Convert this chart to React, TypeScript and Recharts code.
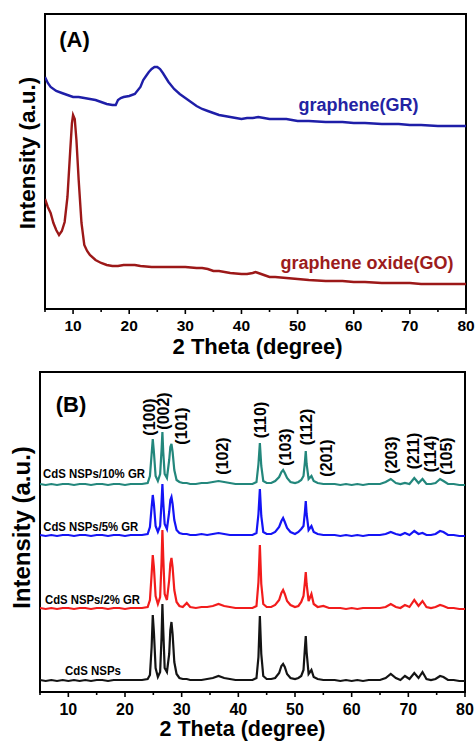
import React from 'react';
import { LineChart, Line, XAxis, YAxis, ReferenceArea, ReferenceDot, Label } from 'recharts';

const FONT = 'Arial, "Liberation Sans", Helvetica, sans-serif';

// ---------- Panel A: graphene / graphene oxide ----------
const grTheta = [5, 5.5, 6, 7, 8, 9, 10, 11, 12, 13,
  14, 15, 16, 17, 17.6, 18, 18.5, 19, 20, 21,
  22, 22.5, 23, 23.5, 24, 24.5, 25, 25.5, 26, 27,
  28, 29, 30, 31, 32, 33, 34, 35, 36, 37,
  38, 39, 40, 41, 42, 43, 44, 45, 46, 47,
  48, 49, 50, 52, 55, 58, 60, 62, 65, 68,
  70, 72, 75, 78, 80];
const grIntensity = [232, 226, 222, 218, 216, 214, 212, 212, 211, 210,
  209, 207, 205, 204, 204, 209, 211, 212, 213, 215,
  222, 229, 233, 237, 240, 242, 242, 240, 236, 227,
  220, 215, 211, 207, 203, 200, 198, 196, 194, 193,
  192, 191, 190, 191, 191, 192, 191, 190, 190, 190,
  190, 189, 188, 188, 187, 187, 186, 186, 185, 185,
  184, 184, 183, 183, 183];

const goTheta = [5, 5.5, 6, 6.5, 7, 7.5, 8, 8.5, 9, 9.5,
  9.8, 10, 10.3, 10.6, 11, 11.5, 12, 12.5, 13, 14,
  15, 16, 17, 18, 19, 20, 21, 22, 24, 26,
  28, 30, 32, 33, 34, 35, 36, 38, 40, 41,
  42, 42.5, 43, 44, 45, 46, 48, 50, 52, 55,
  58, 60, 62, 65, 68, 70, 72, 75, 78, 80];
const goIntensity = [110, 102, 96, 86, 79, 74, 78, 87, 112, 159,
  186, 194, 190, 169, 129, 86, 64, 58, 54, 49,
  46, 44, 43, 43, 44, 44, 44, 43, 42, 42,
  42, 42, 41, 41, 40, 38, 38, 36, 35, 35,
  36, 37, 36, 34, 32, 32, 31, 30, 29, 28,
  28, 27, 27, 26, 26, 26, 25, 25, 25, 25];

// ---------- Panel B: CdS NSPs / GR composites ----------
const bTheta = [5, 6, 7, 8, 9, 10, 11, 12, 13, 14,
  15, 16, 17, 18, 19, 20, 21, 22, 23, 24,
  24.4, 24.7, 24.9, 25.1, 25.4, 25.8, 26.2, 26.45, 26.6, 26.75,
  27.0, 27.4, 27.8, 28.0, 28.2, 28.4, 28.7, 29.1, 29.6, 30.2,
  30.9, 31.5, 32.5, 33.5, 34.5, 35.5, 36.5, 37.5, 38.5, 39.5,
  40.5, 41.5, 42.5, 43.2, 43.55, 43.8, 44.05, 44.4, 45, 45.8,
  46.5, 47.2, 47.6, 47.9, 48.2, 48.6, 49.2, 50, 50.6, 51.1,
  51.5, 51.75, 51.9, 52.05, 52.4, 52.9, 53.3, 54, 55, 56,
  57, 58, 59, 60, 61, 62, 63, 64, 65, 66,
  66.9, 67.8, 68.6, 69.4, 70.2, 71.05, 71.8, 72.5, 73.2, 74,
  74.8, 75.6, 76.2, 77, 78, 79, 80];

const cdsNSPs = [12, 11, 12, 11, 12, 11, 12, 11, 12, 11,
  12, 12, 11, 12, 12, 12, 12, 12, 12, 13,
  17, 45, 77, 60, 24, 15, 20, 55, 88, 62,
  24, 20, 38, 62, 70, 58, 30, 18, 14, 13,
  13, 12, 12, 12, 13, 14, 16, 14, 13, 12,
  12, 12, 12, 14, 35, 76, 38, 16, 13, 13,
  14, 19, 26, 28, 25, 18, 14, 13, 14, 16,
  22, 44, 56, 40, 18, 22, 15, 13, 12, 12,
  12, 11, 12, 11, 12, 11, 12, 12, 12, 14,
  18, 14, 12, 16, 13, 19, 14, 20, 13, 12,
  13, 16, 15, 12, 12, 11, 11];

const cds2GR = [84, 83, 84, 83, 84, 84, 83, 84, 84, 83,
  84, 84, 83, 84, 84, 83, 84, 84, 84, 85,
  92, 118, 137, 125, 96, 88, 95, 130, 162, 135,
  98, 92, 112, 128, 134, 125, 102, 90, 86, 85,
  89, 85, 84, 85, 85, 86, 88, 86, 85, 84,
  84, 84, 84, 86, 110, 147, 108, 88, 85, 85,
  87, 92, 99, 102, 98, 91, 87, 85, 86, 90,
  96, 110, 120, 108, 91, 98, 88, 85, 86, 84,
  84, 84, 83, 84, 83, 84, 84, 84, 84, 85,
  88, 85, 84, 87, 85, 92, 86, 91, 85, 84,
  85, 87, 86, 84, 84, 83, 83];

const cds5GR = [157, 156, 157, 156, 157, 157, 156, 157, 157, 156,
  157, 157, 156, 157, 157, 156, 157, 157, 157, 158,
  165, 185, 197, 188, 166, 160, 166, 190, 208, 190,
  168, 163, 180, 192, 195, 188, 172, 162, 159, 158,
  158, 157, 157, 158, 157, 158, 159, 158, 157, 157,
  157, 157, 157, 159, 178, 203, 176, 160, 158, 158,
  160, 165, 171, 174, 170, 164, 160, 158, 160, 163,
  166, 180, 191, 178, 162, 166, 160, 158, 157, 157,
  157, 156, 157, 156, 157, 156, 157, 157, 157, 158,
  160, 158, 157, 159, 157, 161, 158, 159, 157, 157,
  158, 161, 160, 157, 157, 156, 156];

const cds10GR = [208, 207, 208, 207, 208, 208, 207, 208, 208, 207,
  208, 208, 207, 208, 208, 207, 208, 208, 208, 209,
  216, 238, 253, 240, 216, 211, 218, 242, 260, 240,
  218, 214, 232, 245, 248, 240, 222, 212, 210, 209,
  209, 208, 208, 209, 209, 210, 211, 210, 209, 208,
  208, 208, 208, 210, 228, 249, 226, 211, 209, 209,
  211, 215, 220, 222, 219, 214, 210, 209, 210, 212,
  216, 230, 241, 228, 213, 216, 211, 209, 208, 208,
  208, 207, 208, 207, 208, 207, 208, 208, 208, 210,
  213, 209, 208, 209, 208, 214, 209, 213, 208, 208,
  209, 213, 211, 208, 208, 207, 207];

const xTicks = [5, 10, 15, 20, 25, 30, 35, 40, 45, 50, 55, 60, 65, 70, 75, 80];

const millerLabels = ['(100)', '(002)', '(101)', '(102)', '(110)', '(103)', '(112)', '(201)', '(203)', '(211)', '(114)', '(105)'];
const millerTheta = [24.23, 26.71, 29.88, 37.12, 43.82, 48.24, 51.94, 55.47, 66.94, 70.82, 73.82, 76.65];
const millerLevel = [275, 281, 266, 236, 272, 245, 265, 234, 237, 241, 238, 236];

const sampleNames = ['CdS NSPs/10% GR', 'CdS NSPs/5% GR', 'CdS NSPs/2% GR', 'CdS NSPs'];
const sampleTheta = [5.53, 5.58, 5.88, 9.41];
const sampleLevel = [214, 161, 88, 17];
const sampleWidth = [102, 95, 95, 56];

const grData = grTheta.map((t, i) => ({ theta: t, intensity: grIntensity[i] }));
const goData = goTheta.map((t, i) => ({ theta: t, intensity: goIntensity[i] }));
const bData = bTheta.map((t, i) => ({
  theta: t,
  cds: cdsNSPs[i],
  gr2: cds2GR[i],
  gr5: cds5GR[i],
  gr10: cds10GR[i],
}));

const makeTick = (fontSize: number, labelDy: number) => (props: any) => {
  const { x, y, payload } = props;
  const v = payload.value;
  const major = v % 10 === 0;
  return (
    <g>
      <line x1={x} x2={x} y1={y} y2={y + (major ? 5 : 3)} stroke="#000" strokeWidth={1.6} />
      {major ? (
        <text x={x} y={y + labelDy} textAnchor="middle" fontFamily={FONT} fontSize={fontSize} fontWeight={700} fill="#000">
          {v}
        </text>
      ) : null}
    </g>
  );
};

const xTitle = (dx: number, dy: number, fontSize: number) => (props: any) => {
  const vb = props.viewBox || { x: 0, y: 0, width: 0, height: 0 };
  return (
    <text x={vb.x + vb.width / 2 + dx} y={vb.y + dy} textAnchor="middle" fontFamily={FONT} fontSize={fontSize} fontWeight={700} fill="#000">
      2 Theta (degree)
    </text>
  );
};

const yTitle = (baseX: number, dy: number, fontSize: number) => (props: any) => {
  const vb = props.viewBox || { x: 0, y: 0, width: 0, height: 0 };
  const cy = vb.y + vb.height / 2 + dy;
  return (
    <text x={baseX} y={cy} transform={`rotate(-90 ${baseX} ${cy})`} textAnchor="middle" fontFamily={FONT} fontSize={fontSize} fontWeight={700} fill="#000">
      Intensity (a.u.)
    </text>
  );
};

const textShape = (label: string, opts: { size: number; color?: string; anchor?: string; rotate?: boolean; center?: boolean; length?: number }) => (props: any) => {
  const { cx, cy } = props;
  const extra: any = {};
  if (opts.length) {
    extra.textLength = opts.length;
    extra.lengthAdjust = 'spacingAndGlyphs';
  }
  return (
    <text
      x={cx}
      y={cy}
      dy={opts.center ? '0.35em' : 0}
      transform={opts.rotate ? `rotate(-90 ${cx} ${cy})` : undefined}
      textAnchor={opts.anchor || 'middle'}
      fontFamily={FONT}
      fontSize={opts.size}
      fontWeight={700}
      fill={opts.color || '#000'}
      {...extra}
    >
      {label}
    </text>
  );
};

export default function App() {
  return (
    <div style={{ position: 'absolute', left: 0, top: 0, width: 476, height: 741, background: '#fff' }}>
      <LineChart width={476} height={370} margin={{ top: 14, right: 10, bottom: 0, left: 0 }}>
        <XAxis
          type="number"
          dataKey="theta"
          domain={[5, 80]}
          ticks={xTicks}
          interval={0}
          height={61}
          tickSize={0}
          tickMargin={0}
          tickLine={false}
          axisLine={false}
          tick={makeTick(15.5, 21.5)}
          allowDataOverflow
        >
          <Label content={xTitle(2, 44.5, 22)} />
        </XAxis>
        <YAxis type="number" domain={[0, 295]} width={45} tick={false} tickLine={false} axisLine={false} allowDataOverflow>
          <Label content={yTitle(35, -8.5, 22.5)} />
        </YAxis>
        <ReferenceArea x1={5} x2={80} y1={0} y2={295} fill="none" fillOpacity={0} stroke="#000" strokeWidth={2} />
        <Line data={grData} dataKey="intensity" type="linear" stroke="#1e1ea8" strokeWidth={2.4} dot={false} activeDot={false} isAnimationActive={false} />
        <Line data={goData} dataKey="intensity" type="linear" stroke="#9c1818" strokeWidth={2.4} dot={false} activeDot={false} isAnimationActive={false} />
        <ReferenceDot x={10.26} y={262} r={0} shape={textShape('(A)', { size: 22 })} />
        <ReferenceDot x={60.85} y={198} r={0} shape={textShape('graphene(GR)', { size: 18, color: '#2323a3' })} />
        <ReferenceDot x={62.36} y={40} r={0} shape={textShape('graphene oxide(GO)', { size: 18, color: '#9c1c1c' })} />
      </LineChart>
      <LineChart width={476} height={371} data={bData} margin={{ top: 2, right: 11, bottom: 0, left: 0 }}>
        <XAxis
          type="number"
          dataKey="theta"
          domain={[5, 80]}
          ticks={xTicks}
          interval={0}
          height={49}
          tickSize={0}
          tickMargin={0}
          tickLine={false}
          axisLine={false}
          tick={makeTick(16, 22.5)}
          allowDataOverflow
        >
          <Label content={xTitle(-10, 44.3, 21.5)} />
        </XAxis>
        <YAxis type="number" domain={[0, 320]} width={40} tick={false} tickLine={false} axisLine={false} allowDataOverflow>
          <Label content={yTitle(30, -4.5, 24)} />
        </YAxis>
        <ReferenceArea x1={5} x2={80} y1={0} y2={320} fill="none" fillOpacity={0} stroke="#000" strokeWidth={2} />
        <Line dataKey="gr10" type="linear" stroke="#23877c" strokeWidth={2.2} dot={false} activeDot={false} isAnimationActive={false} />
        <Line dataKey="gr5" type="linear" stroke="#1414f5" strokeWidth={2.2} dot={false} activeDot={false} isAnimationActive={false} />
        <Line dataKey="gr2" type="linear" stroke="#f21c1c" strokeWidth={2.2} dot={false} activeDot={false} isAnimationActive={false} />
        <Line dataKey="cds" type="linear" stroke="#141414" strokeWidth={2.2} dot={false} activeDot={false} isAnimationActive={false} />
        <ReferenceDot x={10.47} y={280} r={0} shape={textShape('(B)', { size: 22 })} />
        {millerLabels.map((m, i) => (
          <ReferenceDot key={m} x={millerTheta[i]} y={millerLevel[i]} r={0} shape={textShape(m, { size: 16, rotate: true, center: true })} />
        ))}
        {sampleNames.map((s, i) => (
          <ReferenceDot key={s} x={sampleTheta[i]} y={sampleLevel[i]} r={0} shape={textShape(s, { size: 13, anchor: 'start', length: sampleWidth[i] })} />
        ))}
      </LineChart>
    </div>
  );
}
